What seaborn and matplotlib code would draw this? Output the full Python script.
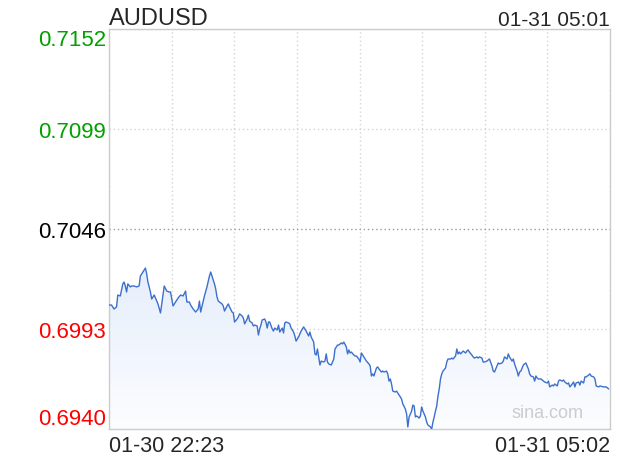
import numpy as np
import pandas as pd
import matplotlib
matplotlib.use("Agg")
import matplotlib.pyplot as plt
from matplotlib.colors import LinearSegmentedColormap
import seaborn as sns

# minutes after 01-30 22:23, price
minutes = [0, 2, 4, 6, 7, 9, 11, 12, 13, 14, 15, 17, 18, 20, 22, 24, 25, 27, 29, 30,
           31, 33, 34, 36, 38, 39, 41, 42, 44, 46, 48, 49, 51, 53, 55, 57, 59, 61, 62, 64,
           65, 67, 69, 71, 72, 73, 75, 76, 78,
           80, 81, 82, 84, 85, 86, 87, 88, 90, 91, 92, 94, 95, 96, 98, 99, 100, 102, 103, 104,
           106, 107, 108, 110, 111, 112, 114, 115, 116, 118, 119, 120, 121, 122, 124, 125, 126,
           127, 128, 130, 131, 132, 134, 135, 136, 138, 139, 140, 141, 143, 144, 145, 147, 148,
           149, 151, 152, 153, 155, 156, 157, 159, 160,
           161, 163, 164, 165, 166, 167, 168, 169, 171, 172, 173, 174, 175, 177, 179, 180, 181,
           182, 183, 185, 186, 187, 189, 190, 191, 192, 193, 195, 196, 197, 199, 200, 201, 203,
           204, 205, 207, 208, 209, 210, 211, 213, 214, 215, 217, 218, 219, 221, 222, 223, 224,
           225, 226, 228, 229, 230, 232, 233,
           234, 236, 237, 238, 239, 241, 242, 243, 244, 245, 246, 247, 248, 249, 250, 251, 252,
           253, 254, 256, 257, 258, 259, 260, 261, 262, 263, 264, 265, 266, 268, 269, 270, 272,
           273, 274, 276, 277, 278, 279, 280, 282, 284,
           285, 286, 287, 289, 290, 291, 293, 294, 295, 297, 298, 299, 301, 302, 303, 305, 306,
           307, 309, 310, 311, 313, 314, 315, 317, 318, 319, 321, 322, 323, 325, 326, 327, 328,
           330, 331, 332, 334, 335, 336, 338, 339, 340, 341, 342, 344, 346, 347,
           349, 350, 351, 353, 354, 355, 357, 358, 359, 361, 362, 363, 365, 366, 367, 369, 370,
           371, 372, 374, 375, 376, 378, 379, 380, 382, 383, 384, 386, 387, 388, 390, 391, 394,
           396, 398]

prices = [0.70057, 0.70057, 0.70036, 0.70047, 0.70110, 0.70105, 0.70169, 0.70179, 0.70158, 0.70126,
          0.70169, 0.70153, 0.70158, 0.70158, 0.70153, 0.70158, 0.70211, 0.70232, 0.70253, 0.70222,
          0.70179, 0.70126, 0.70089, 0.70110, 0.70078, 0.70063, 0.70015, 0.70063, 0.70158, 0.70131,
          0.70126, 0.70126, 0.70052, 0.70073, 0.70094, 0.70110, 0.70105, 0.70131, 0.70073, 0.70073,
          0.70057, 0.70036, 0.70020, 0.70036, 0.70078, 0.70020, 0.70078, 0.70105, 0.70153,
          0.70211, 0.70232, 0.70211, 0.70169, 0.70142, 0.70100, 0.70078, 0.70073, 0.70063, 0.70052,
          0.70025, 0.70052, 0.70063, 0.70047, 0.70020, 0.70015, 0.69967, 0.69983, 0.69994, 0.70010,
          0.69999, 0.69988, 0.69957, 0.69983, 0.70004, 0.69972, 0.69962, 0.69946, 0.69951, 0.69946,
          0.69898, 0.69930, 0.69951, 0.69978, 0.69983, 0.69967, 0.69935, 0.69967, 0.69967, 0.69930,
          0.69919, 0.69935, 0.69925, 0.69951, 0.69914, 0.69935, 0.69909, 0.69962, 0.69967, 0.69962,
          0.69957, 0.69935, 0.69914, 0.69893, 0.69866, 0.69888, 0.69904, 0.69919, 0.69941, 0.69930,
          0.69919, 0.69893, 0.69914,
          0.69888, 0.69861, 0.69798, 0.69792, 0.69824, 0.69782, 0.69739, 0.69760, 0.69755, 0.69760,
          0.69798, 0.69755, 0.69745, 0.69739, 0.69771, 0.69824, 0.69835, 0.69845, 0.69845, 0.69856,
          0.69851, 0.69861, 0.69835, 0.69798, 0.69819, 0.69803, 0.69808, 0.69792, 0.69787, 0.69787,
          0.69771, 0.69755, 0.69803, 0.69782, 0.69771, 0.69760, 0.69745, 0.69734, 0.69681, 0.69692,
          0.69681, 0.69723, 0.69729, 0.69718, 0.69702, 0.69707, 0.69702, 0.69707, 0.69692, 0.69654,
          0.69665, 0.69639, 0.69601, 0.69596, 0.69601, 0.69591, 0.69570, 0.69559,
          0.69533, 0.69506, 0.69480, 0.69411, 0.69464, 0.69495, 0.69527, 0.69522, 0.69464, 0.69469,
          0.69464, 0.69458, 0.69469, 0.69517, 0.69495, 0.69480, 0.69464, 0.69437, 0.69421, 0.69411,
          0.69400, 0.69437, 0.69464, 0.69495, 0.69522, 0.69575, 0.69612, 0.69665, 0.69692, 0.69707,
          0.69723, 0.69755, 0.69771, 0.69771, 0.69776, 0.69771, 0.69787, 0.69824, 0.69798, 0.69808,
          0.69798, 0.69813, 0.69803,
          0.69813, 0.69819, 0.69808, 0.69792, 0.69782, 0.69776, 0.69782, 0.69776, 0.69782, 0.69776,
          0.69755, 0.69755, 0.69760, 0.69766, 0.69771, 0.69734, 0.69707, 0.69702, 0.69734, 0.69750,
          0.69745, 0.69750, 0.69760, 0.69782, 0.69771, 0.69798, 0.69782, 0.69760, 0.69771, 0.69745,
          0.69707, 0.69681, 0.69702, 0.69707, 0.69739, 0.69745, 0.69750, 0.69718, 0.69692, 0.69681,
          0.69676, 0.69654, 0.69681, 0.69670, 0.69665, 0.69665, 0.69654, 0.69649,
          0.69644, 0.69654, 0.69623, 0.69633, 0.69628, 0.69639, 0.69628, 0.69654, 0.69660, 0.69654,
          0.69660, 0.69649, 0.69639, 0.69644, 0.69623, 0.69639, 0.69649, 0.69623, 0.69644, 0.69649,
          0.69633, 0.69654, 0.69644, 0.69676, 0.69676, 0.69686, 0.69692, 0.69681, 0.69676, 0.69665,
          0.69628, 0.69623, 0.69628, 0.69623, 0.69623, 0.69612]

y_ticks = [0.6940, 0.6993, 0.7046, 0.7099, 0.7152]
y_labels = ['0.6940', '0.6993', '0.7046', '0.7099', '0.7152']
y_colors = ['#ff0000', '#ff0000', '#000000', '#00a000', '#00a000']
x_span = 399  # 22:23 -> 05:02
x_labels = ['01-30 22:23', '', '', '', '', '', '', '', '01-31 05:02']

df = pd.DataFrame({'minute': minutes, 'price': prices})

sns.set_style('white')
plt.rcParams['font.family'] = ['Liberation Sans', 'DejaVu Sans']

fig = plt.figure(figsize=(6.2, 4.6), dpi=100)
ax = fig.add_axes([109 / 620, 30 / 460, 501 / 620, 400 / 460])

# light gradient under the line
poly = ax.fill_between(df['minute'], df['price'], y_ticks[0], color='none', lw=0)
cmap = LinearSegmentedColormap.from_list('fade', ['#fcfdff', '#e6eefb'])
grad = np.linspace(0, 1, 256).reshape(-1, 1)
img = ax.imshow(grad, cmap=cmap, aspect='auto', origin='lower',
                extent=[0, x_span, y_ticks[0], df['price'].max()], zorder=1)
img.set_clip_path(poly.get_paths()[0], transform=ax.transData)

sns.lineplot(data=df, x='minute', y='price', color='#3d6fcc', linewidth=1.0, ax=ax, zorder=3)

ax.set_xlim(0, x_span)
ax.set_ylim(y_ticks[0], y_ticks[-1])
ax.set_xticks(np.linspace(0, x_span, 9))
ax.set_xticklabels(x_labels)
ax.set_yticks(y_ticks)
ax.set_yticklabels(y_labels)
ax.set_xlabel('')
ax.set_ylabel('')

ax.tick_params(axis='y', length=0, labelsize=16, pad=2)
ax.tick_params(axis='x', length=0, labelsize=15.5, pad=4)
yt = ax.get_yticklabels()
for lab, c in zip(yt, y_colors):
    lab.set_color(c)
# end labels sit inside the plot height
yt[0].set_va('bottom')
yt[-1].set_va('top')
xt = ax.get_xticklabels()
xt[0].set_ha('left')
xt[-1].set_ha('right')

ax.grid(True, linestyle=(0, (1, 2)), color='#d4d4d4', linewidth=1)
ax.get_ygridlines()[2].set_color('#9a9a9a')
for s in ax.spines.values():
    s.set_color('#cccccc')
    s.set_linewidth(1)

ax.text(0, 1.0, 'AUDUSD', transform=ax.transAxes, ha='left', va='bottom', fontsize=17)
ax.text(1.0, 1.0, '01-31 05:01', transform=ax.transAxes, ha='right', va='bottom', fontsize=15)
ax.text(0.876, 0.042, 'sina.com', transform=ax.transAxes, ha='center', va='center',
        fontsize=13, color='#cccccc')

fig.savefig('out.png', dpi=100)
